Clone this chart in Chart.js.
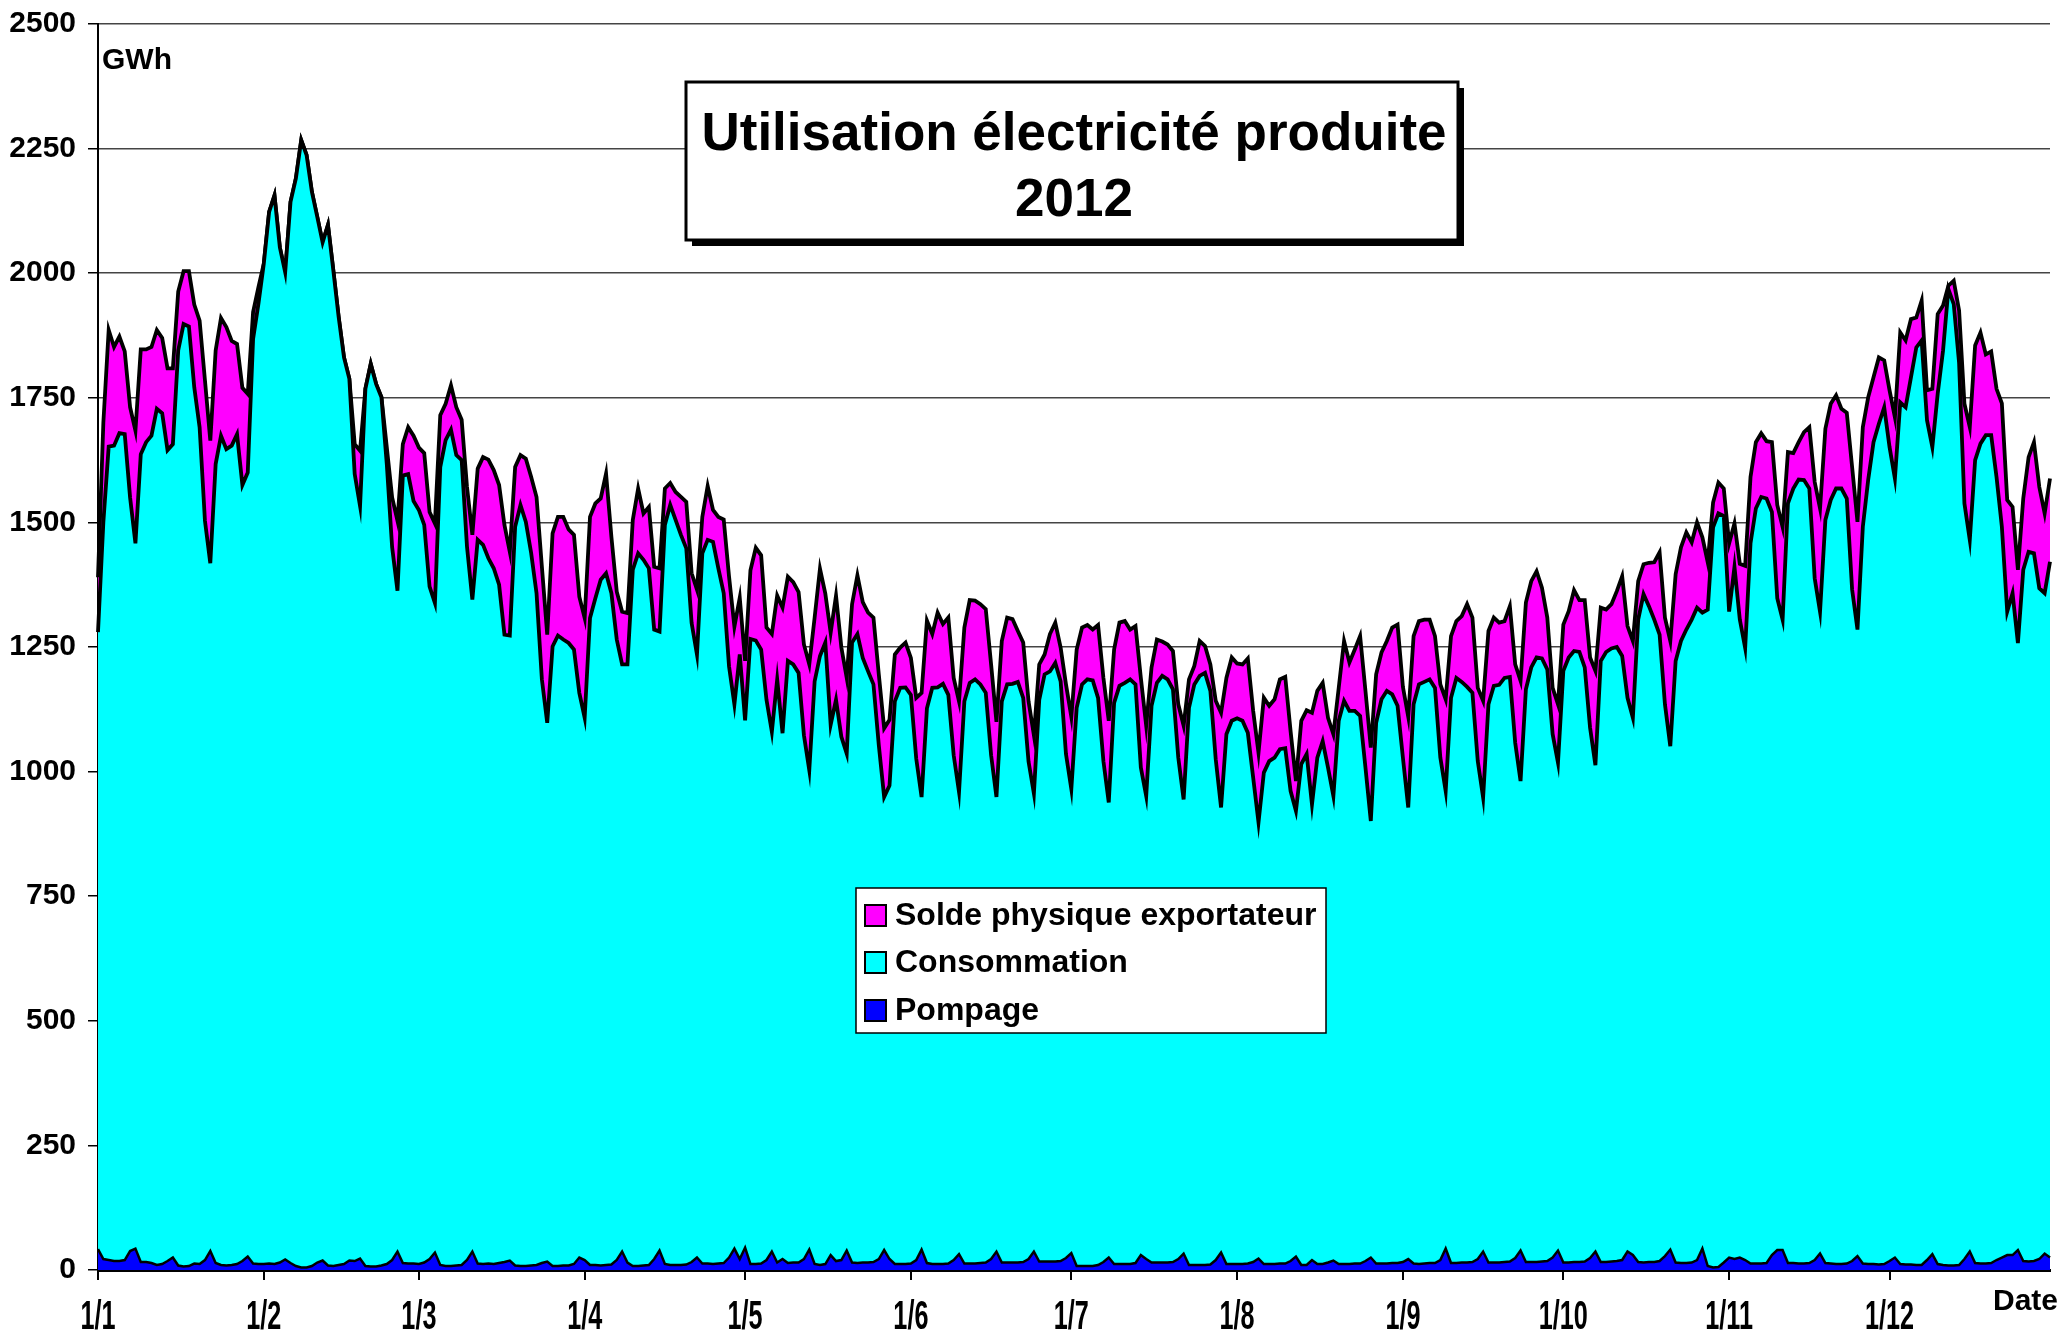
<!DOCTYPE html>
<html>
<head>
<meta charset="utf-8">
<script src="https://cdn.jsdelivr.net/npm/chart.js@4.4.1/dist/chart.umd.min.js"></script>
<style>
  html, body { margin: 0; padding: 0; background: #ffffff; }
  #wrap { position: relative; width: 2061px; height: 1331px; }
  canvas { display: block; }
</style>
</head>
<body>
<div id="wrap"><canvas id="c" width="2061" height="1331"></canvas></div>
<script>
// ---- Data (GWh per day, 2012) ----
const monthLengths = [31, 29, 31, 30, 31, 30, 31, 31, 30, 31, 30, 31];
const monthTickLabels = ["1/1","1/2","1/3","1/4","1/5","1/6","1/7","1/8","1/9","1/10","1/11","1/12"];
const seriesNames = ["Pompage", "Consommation", "Solde physique exportateur"];

const pompage = [
42,22,20,18,18,20,38,43,16,16,14,10,12,18,25,9,7,8,13,12,20,38,14,10,9,10,12,18,27,13,12,
12,13,12,15,21,14,8,5,5,8,15,19,9,8,10,12,19,18,23,8,7,7,9,12,20,37,14,13,13,
12,15,22,35,10,8,8,9,10,20,37,13,12,13,12,14,16,19,9,8,8,9,10,14,17,8,8,9,9,12,25,
20,10,10,9,10,11,20,37,15,8,8,9,10,22,39,12,10,10,10,11,16,25,13,13,12,13,14,25,43,22,
45,12,12,13,20,37,15,22,14,15,15,22,41,12,10,12,30,18,20,39,15,14,15,15,16,22,40,22,12,12,12,
13,20,41,14,12,12,12,13,20,32,13,13,13,14,15,22,37,15,15,15,15,16,22,37,17,17,17,17,18,24,
34,8,8,8,8,10,16,25,12,12,12,12,14,30,22,15,15,15,15,16,22,33,10,10,10,10,11,20,35,12,12,
12,12,13,16,23,12,12,12,13,13,18,27,10,10,20,12,12,15,19,12,12,12,13,13,18,25,13,13,13,14,14,
16,22,13,12,13,14,14,20,43,14,14,15,15,16,22,37,15,15,15,16,17,24,39,16,16,16,17,18,25,39,
15,15,16,16,17,24,37,16,16,17,18,20,37,30,16,15,16,16,18,28,41,15,14,14,15,20,43,8,5,6,15,
25,22,25,20,13,13,13,14,30,40,40,14,14,13,13,14,20,33,14,13,12,12,13,18,28,13,12,12,11,12,
18,25,12,11,11,10,10,20,32,12,10,9,9,10,22,37,14,13,13,14,20,25,30,30,40,18,17,18,22,33,25
];

const consommation = [
1238,1478,1632,1636,1661,1657,1512,1415,1621,1645,1660,1718,1707,1627,1632,1836,1891,1885,1758,1679,1483,1380,1603,1664,1638,1644,1665,1557,1573,1855,1927,
2007,2110,2144,2037,1981,2129,2182,2262,2232,2155,2098,2043,2088,1998,1902,1819,1769,1579,1510,1760,1811,1771,1742,1605,1430,1326,1580,1584,1530,
1513,1480,1349,1303,1601,1657,1678,1626,1615,1431,1308,1452,1443,1415,1396,1361,1259,1254,1482,1527,1493,1429,1348,1171,1081,1243,1265,1256,1249,1233,1133,
1088,1298,1338,1376,1388,1347,1245,1178,1200,1397,1430,1416,1398,1263,1242,1483,1525,1495,1465,1437,1282,1210,1425,1452,1449,1395,1344,1186,1092,1213,
1058,1254,1251,1232,1124,1043,1170,1055,1208,1200,1183,1051,962,1169,1222,1247,1064,1126,1050,997,1244,1262,1213,1186,1159,1031,909,950,1129,1156,1157,
1141,1006,908,1113,1156,1157,1164,1141,1013,927,1128,1165,1172,1161,1143,1011,912,1126,1160,1161,1165,1132,998,919,1127,1178,1184,1201,1163,1011,
931,1120,1167,1177,1175,1138,1005,913,1126,1160,1166,1173,1161,978,929,1117,1163,1177,1170,1149,1006,911,1118,1165,1182,1188,1151,1005,893,1063,1090,
1095,1090,1065,972,875,986,1009,1016,1032,1034,943,894,1005,1025,914,1016,1049,993,932,1090,1130,1110,1109,1099,990,876,1085,1132,1149,1141,1118,
1012,906,1122,1163,1167,1171,1154,1008,918,1134,1174,1165,1155,1142,999,911,1120,1157,1159,1172,1173,1034,942,1149,1193,1213,1210,1187,1050,979,
1187,1214,1226,1224,1192,1064,976,1206,1224,1230,1232,1212,1111,1078,1289,1341,1316,1289,1257,1107,1010,1207,1248,1271,1290,1309,1276,1317,1485,1512,1498,
1296,1389,1280,1228,1445,1515,1538,1534,1491,1308,1265,1524,1554,1573,1572,1554,1368,1288,1491,1532,1556,1556,1535,1347,1257,1478,1573,1649,1687,1719,
1633,1563,1729,1720,1780,1841,1855,1685,1619,1746,1835,1959,1929,1810,1516,1428,1611,1645,1662,1661,1571,1466,1291,1328,1218,1387,1424,1420,1346,1325,1396
];

const solde = [
110,200,234,198,194,166,181,226,210,186,178,158,151,164,152,118,106,111,166,214,282,246,228,236,245,210,181,195,158,54,33,
0,0,0,0,0,0,0,0,0,0,0,0,0,0,0,0,0,60,111,0,0,0,0,34,100,140,63,94,131,
125,144,150,160,104,73,89,96,81,120,130,143,176,198,197,200,220,168,120,100,127,153,193,226,177,227,238,246,228,230,193,
200,203,190,163,200,113,96,106,103,100,130,93,123,126,127,73,44,56,76,93,100,130,73,108,64,103,148,180,156,114,
119,138,186,189,145,196,168,252,169,165,162,182,212,128,175,98,185,209,179,152,77,118,112,118,134,142,138,132,94,81,90,
74,122,209,176,108,150,120,155,155,182,148,166,158,161,168,182,151,121,134,130,102,111,121,117,71,40,75,81,68,140,
145,117,114,109,102,146,167,164,107,127,124,100,117,180,141,77,87,69,70,77,107,148,57,37,70,54,53,117,190,113,127,
110,113,149,134,140,150,111,117,140,143,120,60,87,88,184,134,117,100,124,66,120,97,123,160,154,147,97,94,100,134,163,
142,182,137,127,125,120,104,147,184,124,114,132,166,151,147,194,147,137,125,114,142,157,201,174,173,173,142,104,93,117,
93,93,122,104,135,141,189,107,85,89,112,160,144,154,77,60,87,115,165,174,211,174,188,195,155,171,151,95,50,62,55,
137,87,112,165,133,133,128,115,140,187,186,103,71,75,96,123,193,207,183,193,187,160,172,246,216,200,166,130,133,94,
114,123,140,134,117,60,80,60,117,160,90,7,47,105,200,226,230,223,162,168,177,248,224,173,147,143,190,223,203,160,167
];

// day labels "d/m"
const dayLabels = [];
monthLengths.forEach((len, m) => {
  for (let d = 1; d <= len; d++) dayLabels.push(d + "/" + (m + 1));
});

const FONT = "'Liberation Sans', Arial, sans-serif";

const decorPlugin = {
  id: "decor",
  afterDraw(chart) {
    const ctx = chart.ctx;
    ctx.save();
    // Month labels under the x axis (condensed bold, as in the original)
    const xs = chart.scales.x;
    ctx.fillStyle = "#000";
    ctx.font = "bold 40px " + FONT;
    ctx.textAlign = "center";
    ctx.textBaseline = "alphabetic";
    monthTickLabels.forEach((lab) => {
      const idx = dayLabels.indexOf(lab);
      const px = xs.getPixelForValue(idx);
      ctx.save();
      ctx.translate(px, 1329);
      ctx.scale(0.63, 1);
      ctx.fillText(lab, 0, 0);
      ctx.restore();
    });

    // Unit label
    ctx.font = "bold 30px " + FONT;
    ctx.textAlign = "left";
    ctx.textBaseline = "middle";
    ctx.fillText("GWh", 102, 61);
    // Date label
    ctx.textAlign = "right";
    ctx.fillText("Date", 2058, 1302);

    // Title box with shadow
    const bx = 686, by = 82, bw = 772, bh = 158;
    ctx.fillStyle = "#000";
    ctx.fillRect(bx + 6, by + 6, bw, bh);
    ctx.fillStyle = "#fff";
    ctx.fillRect(bx, by, bw, bh);
    ctx.lineWidth = 3;
    ctx.strokeStyle = "#000";
    ctx.strokeRect(bx, by, bw, bh);
    ctx.fillStyle = "#000";
    ctx.font = "bold 53px " + FONT;
    ctx.textAlign = "center";
    ctx.textBaseline = "middle";
    ctx.fillText("Utilisation électricité produite", bx + bw / 2 + 2, 135);
    ctx.fillText("2012", bx + bw / 2 + 2, 201);

    // Legend box
    const lx = 856, ly = 888, lw = 470, lh = 145;
    ctx.fillStyle = "#fff";
    ctx.fillRect(lx, ly, lw, lh);
    ctx.lineWidth = 1.5;
    ctx.strokeStyle = "#000";
    ctx.strokeRect(lx, ly, lw, lh);
    const ds = chart.data.datasets.slice().reverse();
    const rows = [915, 962, 1010];
    ctx.font = "bold 32px " + FONT;
    ctx.textAlign = "left";
    ctx.textBaseline = "middle";
    ds.forEach((d, i) => {
      const y = rows[i];
      ctx.fillStyle = d.backgroundColor;
      ctx.fillRect(865, y - 10, 21, 21);
      ctx.lineWidth = 2;
      ctx.strokeStyle = "#000";
      ctx.strokeRect(865, y - 10, 21, 21);
      ctx.fillStyle = "#000";
      ctx.fillText(d.label, 895, y + 1);
    });
    ctx.restore();
  }
};

new Chart(document.getElementById("c"), {
  type: "line",
  data: {
    labels: dayLabels,
    datasets: [
      { label: seriesNames[0], data: pompage, backgroundColor: "#0000FF", borderColor: "#000", borderWidth: 2.5, fill: "origin" },
      { label: seriesNames[1], data: consommation, backgroundColor: "#00FFFF", borderColor: "#000", borderWidth: 3.8, fill: "-1" },
      { label: seriesNames[2], data: solde, backgroundColor: "#FF00FF", borderColor: "#000", borderWidth: 3.8, fill: "-1" }
    ]
  },
  options: {
    responsive: false,
    animation: false,
    devicePixelRatio: 1,
    layout: { padding: { left: 0, top: 24, right: 11, bottom: 0 } },
    elements: { point: { radius: 0 }, line: { tension: 0 } },
    plugins: { legend: { display: false }, tooltip: { enabled: false }, title: { display: false } },
    scales: {
      x: {
        type: "category",
        offset: false,
        grid: { display: true, drawOnChartArea: false, drawTicks: true, tickLength: 10, color: "#000", lineWidth: 2 },
        border: { display: true, color: "#000", width: 3 },
        ticks: {
          autoSkip: false, maxRotation: 0, minRotation: 0, padding: 15,
          color: "#000", font: { family: FONT, weight: "bold", size: 20 },
          callback: function (value) {
            const lab = this.getLabelForValue(value);
            return monthTickLabels.includes(lab) ? "" : null;
          }
        },
        afterFit: (s) => { s.height = 61; s.paddingLeft = 0; s.paddingRight = 0; }
      },
      y: {
        stacked: true,
        min: 0, max: 2500,
        grid: { color: "#444", lineWidth: 1.5, tickLength: 10, tickColor: "#000" },
        border: { display: true, color: "#000", width: 2 },
        ticks: {
          stepSize: 250, padding: 12, color: "#000",
          font: { family: FONT, weight: "bold", size: 30 },
          callback: (v) => String(v)
        },
        afterFit: (s) => { s.width = 98; s.paddingTop = 0; s.paddingBottom = 0; }
      }
    }
  },
  plugins: [decorPlugin]
});
</script>
</body>
</html>
